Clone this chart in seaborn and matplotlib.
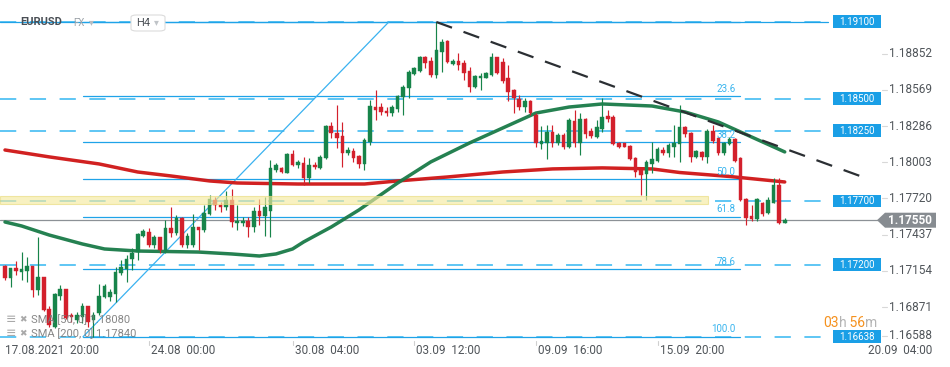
import numpy as np
import pandas as pd
import matplotlib
matplotlib.use("Agg")
import matplotlib.pyplot as plt
import matplotlib.transforms as mtransforms
from matplotlib.patches import Rectangle, Polygon, FancyBboxPatch
import seaborn as sns

# ---------------- data (EURUSD, H4) ----------------
open_ = [1.17192, 1.17098, 1.17176, 1.17145, 1.17153, 1.17192, 1.17004, 1.17106, 1.16856, 1.16715,
         1.16957, 1.17012, 1.16809, 1.16770, 1.16793, 1.16879, 1.16770, 1.16824, 1.16949, 1.16949,
         1.16973, 1.17137, 1.17168, 1.17247, 1.17301, 1.17427, 1.17458, 1.17356, 1.17419, 1.17317,
         1.17489, 1.17450, 1.17567, 1.17356, 1.17356, 1.17497, 1.17473, 1.17599, 1.17708, 1.17669,
         1.17653, 1.17708, 1.17528, 1.17528, 1.17544, 1.17497, 1.17622, 1.17583, 1.17622, 1.17943,
         1.17959, 1.17919, 1.18068, 1.17983, 1.17998, 1.17880, 1.17983, 1.17959, 1.18037, 1.18287,
         1.18232, 1.18209, 1.18076, 1.18092, 1.18053, 1.17990, 1.18162, 1.18435, 1.18435, 1.18404,
         1.18388, 1.18420, 1.18513, 1.18584, 1.18693, 1.18717, 1.18826, 1.18795, 1.18686, 1.18865,
         1.18951, 1.18772, 1.18795, 1.18779, 1.18717, 1.18592, 1.18662, 1.18662, 1.18686, 1.18826,
         1.18787, 1.18662, 1.18568, 1.18498, 1.18435, 1.18482, 1.18373, 1.18146, 1.18154, 1.18240,
         1.18154, 1.18217, 1.18123, 1.18326, 1.18154, 1.18341, 1.18248, 1.18201, 1.18263, 1.18365,
         1.18357, 1.18154, 1.18154, 1.18130, 1.18037, 1.17943, 1.17911, 1.17990, 1.18014, 1.18099,
         1.18076, 1.18123, 1.18146, 1.18279, 1.18232, 1.18045, 1.18084, 1.18045, 1.18248, 1.18193,
         1.18076, 1.18146, 1.18185, 1.18037, 1.17716, 1.17583, 1.17559, 1.17685, 1.17606, 1.17685,
         1.17825, 1.17528]
high = [1.17200, 1.17176, 1.17231, 1.17301, 1.17262, 1.17192, 1.17419, 1.17106, 1.16879, 1.16981,
        1.17043, 1.17012, 1.16824, 1.16832, 1.16903, 1.16879, 1.16832, 1.17051, 1.17051, 1.17012,
        1.17184, 1.17239, 1.17278, 1.17333, 1.17450, 1.17481, 1.17489, 1.17434, 1.17419, 1.17552,
        1.17653, 1.17591, 1.17575, 1.17450, 1.17599, 1.17497, 1.17669, 1.17747, 1.17731, 1.17692,
        1.17778, 1.17794, 1.17669, 1.17575, 1.17575, 1.17653, 1.17716, 1.17731, 1.18022, 1.17998,
        1.17967, 1.18076, 1.18099, 1.18022, 1.18045, 1.18037, 1.18006, 1.18061, 1.18295, 1.18318,
        1.18451, 1.18318, 1.18123, 1.18115, 1.18061, 1.18193, 1.18490, 1.18568, 1.18466, 1.18435,
        1.18451, 1.18529, 1.18607, 1.18725, 1.18748, 1.18834, 1.18834, 1.18826, 1.19100, 1.18967,
        1.18959, 1.18811, 1.18858, 1.18803, 1.18748, 1.18686, 1.18701, 1.18709, 1.18858, 1.18826,
        1.18818, 1.18764, 1.18576, 1.18529, 1.18506, 1.18490, 1.18388, 1.18287, 1.18295, 1.18295,
        1.18232, 1.18232, 1.18349, 1.18412, 1.18388, 1.18349, 1.18271, 1.18334, 1.18506, 1.18412,
        1.18373, 1.18162, 1.18154, 1.18138, 1.18045, 1.17943, 1.18022, 1.18162, 1.18123, 1.18123,
        1.18154, 1.18295, 1.18451, 1.18287, 1.18240, 1.18099, 1.18092, 1.18263, 1.18295, 1.18201,
        1.18162, 1.18201, 1.18193, 1.18045, 1.17724, 1.17669, 1.17724, 1.17692, 1.17731, 1.17880,
        1.17880, 1.17567]
low = [1.17082, 1.17027, 1.17122, 1.17082, 1.17067, 1.16949, 1.16965, 1.16840, 1.16715, 1.16707,
       1.16926, 1.16777, 1.16754, 1.16746, 1.16746, 1.16715, 1.16637, 1.16809, 1.16941, 1.16918,
       1.16910, 1.17122, 1.17067, 1.17161, 1.17239, 1.17419, 1.17340, 1.17333, 1.17294, 1.17294,
       1.17419, 1.17434, 1.17340, 1.17333, 1.17340, 1.17317, 1.17458, 1.17591, 1.17630, 1.17614,
       1.17630, 1.17497, 1.17473, 1.17505, 1.17419, 1.17458, 1.17513, 1.17427, 1.17419, 1.17927,
       1.17919, 1.17919, 1.17975, 1.17959, 1.17825, 1.17841, 1.17951, 1.17951, 1.18029, 1.18193,
       1.18115, 1.17967, 1.18061, 1.18006, 1.17959, 1.17943, 1.18138, 1.18334, 1.18373, 1.18365,
       1.18365, 1.18396, 1.18373, 1.18506, 1.18686, 1.18709, 1.18740, 1.18670, 1.18662, 1.18709,
       1.18779, 1.18764, 1.18725, 1.18646, 1.18553, 1.18584, 1.18568, 1.18662, 1.18678, 1.18693,
       1.18623, 1.18482, 1.18388, 1.18412, 1.18396, 1.18373, 1.18123, 1.18107, 1.18029, 1.18123,
       1.18138, 1.18107, 1.18115, 1.18123, 1.18061, 1.18193, 1.18193, 1.18193, 1.18240, 1.18318,
       1.18138, 1.18115, 1.18123, 1.18022, 1.17888, 1.17747, 1.17708, 1.17919, 1.18006, 1.18061,
       1.18045, 1.18045, 1.18006, 1.18201, 1.18006, 1.18037, 1.18022, 1.17998, 1.18154, 1.18061,
       1.18061, 1.18138, 1.18006, 1.17700, 1.17513, 1.17544, 1.17544, 1.17583, 1.17599, 1.17685,
       1.17520, 1.17528]
close = [1.17098, 1.17176, 1.17153, 1.17168, 1.17192, 1.17004, 1.17106, 1.16848, 1.16731, 1.16973,
         1.17012, 1.16785, 1.16793, 1.16809, 1.16879, 1.16754, 1.16809, 1.16957, 1.17035, 1.16988,
         1.17145, 1.17184, 1.17247, 1.17294, 1.17442, 1.17466, 1.17356, 1.17419, 1.17317, 1.17489,
         1.17450, 1.17567, 1.17356, 1.17427, 1.17497, 1.17473, 1.17606, 1.17716, 1.17669, 1.17653,
         1.17708, 1.17536, 1.17544, 1.17544, 1.17497, 1.17622, 1.17583, 1.17653, 1.17959, 1.17983,
         1.17927, 1.18068, 1.17983, 1.18006, 1.17880, 1.17983, 1.17967, 1.18045, 1.18287, 1.18232,
         1.18193, 1.18076, 1.18099, 1.18037, 1.17990, 1.18177, 1.18443, 1.18412, 1.18396, 1.18388,
         1.18435, 1.18521, 1.18592, 1.18709, 1.18740, 1.18826, 1.18779, 1.18686, 1.18881, 1.18944,
         1.18787, 1.18795, 1.18764, 1.18701, 1.18592, 1.18678, 1.18678, 1.18701, 1.18826, 1.18701,
         1.18639, 1.18553, 1.18506, 1.18435, 1.18482, 1.18388, 1.18154, 1.18170, 1.18240, 1.18154,
         1.18217, 1.18123, 1.18334, 1.18154, 1.18341, 1.18224, 1.18209, 1.18279, 1.18357, 1.18341,
         1.18146, 1.18123, 1.18123, 1.18029, 1.17927, 1.17904, 1.18006, 1.18029, 1.18107, 1.18076,
         1.18138, 1.18154, 1.18279, 1.18224, 1.18045, 1.18092, 1.18045, 1.18248, 1.18170, 1.18076,
         1.18154, 1.18185, 1.18014, 1.17708, 1.17567, 1.17559, 1.17716, 1.17599, 1.17708, 1.17825,
         1.17528, 1.17552]

sma50_idx = [0, 3, 8, 14, 18, 24, 35, 41, 46, 49, 52, 54, 59, 64, 71, 77, 84, 90, 96, 102, 108,
             117, 123, 129, 135, 141]
sma50_val = [1.17536, 1.17505, 1.17434, 1.17364, 1.17325, 1.17309, 1.17301, 1.17286, 1.17270, 1.17286,
             1.17325, 1.17380, 1.17497, 1.17630, 1.17841, 1.18006, 1.18154, 1.18271, 1.18388, 1.18435,
             1.18459, 1.18443, 1.18396, 1.18318, 1.18201, 1.18084]
sma200_idx = [0, 8, 17, 24, 30, 37, 42, 53, 65, 71, 80, 90, 99, 108, 117, 122, 131, 141]
sma200_val = [1.18099, 1.18045, 1.17990, 1.17927, 1.17896, 1.17857, 1.17841, 1.17833, 1.17833, 1.17857,
              1.17888, 1.17927, 1.17951, 1.17959, 1.17951, 1.17923, 1.17892, 1.17849]

level_prices = [1.19100, 1.18500, 1.18250, 1.17700, 1.17200, 1.16638]
level_labels = ["1.19100", "1.18500", "1.18250", "1.17700", "1.17200", "1.16638"]
axis_prices = [1.18852, 1.18569, 1.18286, 1.18003, 1.17720, 1.17437, 1.17154, 1.16871, 1.16588]
axis_labels = ["1.18852", "1.18569", "1.18286", "1.18003", "1.17720", "1.17437", "1.17154", "1.16871", "1.16588"]
fib_high, fib_low = 1.19100, 1.16638
fib_pcts = [0.0, 23.6, 38.2, 50.0, 61.8, 78.6, 100.0]
fib_texts = ["", "23.6", "38.2", "50.0", "61.8", "78.6", "100.0"]
fib_span = [14.1, 132.9]
zone_low, zone_high, zone_end = 1.17677, 1.17739, 127.1
trend_up_x, trend_up_y = [14.1, 69.4], [1.16638, 1.19100]
trend_dn_x, trend_dn_y = [78, 154.6], [1.19100, 1.17896]
last_price = 1.17550
date_ticks = [26, 52, 74, 96, 118]
date_labels = ["24.08  00:00", "30.08  04:00", "03.09  12:00", "09.09  16:00", "15.09  20:00"]
first_date = "17.08.2021  20:00"
last_date = "20.09  04:00"
sma_legend = ["SMA [50, 0] 1.18080", "SMA [200, 0] 1.17840"]
countdown = [("03", "#f5911e"), ("h", "#b4b4b4"), (" 56", "#f5911e"), ("m", "#b4b4b4")]

# ---------------- style ----------------
GREEN = "#17844a"
RED = "#d3202c"
BLUE = "#1fa3e8"
BLUE_D = "#52c2f3"
GRAY_T = "#50555a"

sns.set_theme(style="white")
plt.rcParams['font.family'] = ['Roboto', 'DejaVu Sans']

W, H = 950, 367
PXB = 5.53          # pixels per bar
PPX = 0.0000782     # price per pixel
fig = plt.figure(figsize=(W / 100, H / 100), dpi=100)
ax = fig.add_axes([0, 0, 1, 1])
ax.set_xlim(-5 / PXB, (W - 5) / PXB)
ax.set_ylim(1.19272 - H * PPX, 1.19272)
ax.axis('off')

def bx(px):
    return (px - 5) / PXB

def fy(py):
    return 1 - py / H

xa_yd = mtransforms.blended_transform_factory(ax.transAxes, ax.transData)

# level lines (dashed)
for p in level_prices:
    ax.plot([bx(0), bx(828)], [p, p], color=BLUE_D, lw=1.3, ls=(0, (9, 7.5)), zorder=1)
ax.plot([bx(0), bx(828)], [level_prices[0]] * 2, color=BLUE, lw=0.9, zorder=1)

# fib lines
for pct, txt in zip(fib_pcts, fib_texts):
    p = fib_high - pct / 100 * (fib_high - fib_low)
    ax.plot(fib_span, [p, p], color=BLUE, lw=0.9, zorder=1.2)
    if txt:
        ax.text(fib_span[1] - 0.8, p + 2.5 * PPX, txt, color="#38b4ee", fontsize=7,
                ha='right', va='bottom', zorder=6)

# fib diagonal
ax.plot(trend_up_x, trend_up_y, color="#3ab2f0", lw=0.9, zorder=1.3)

# current price line
ax.plot([bx(0), bx(878)], [last_price, last_price], color="#8c9196", lw=0.9, zorder=1.4)

# SMA lines
sns.lineplot(x=sma200_idx, y=sma200_val, ax=ax, color="#cf1515", lw=2.5, alpha=0.95, zorder=2)
sns.lineplot(x=sma50_idx, y=sma50_val, ax=ax, color="#197a48", lw=2.5, alpha=0.95, zorder=2)
for ln in ax.lines[-2:]:
    ln.set_solid_joinstyle('round')
    ln.set_solid_capstyle('round')

# candles
df = pd.DataFrame(dict(o=open_, h=high, l=low, c=close))
df['i'] = np.arange(len(df))
cols = np.where(df.c >= df.o, GREEN, RED)
ax.vlines(df.i, df.l, df.h, colors=cols, lw=0.85, zorder=3)
bottoms = np.minimum(df.o, df.c)
heights = np.maximum(np.abs(df.c - df.o), 1.2 * PPX)
ax.bar(df.i, heights, bottom=bottoms, width=0.66, color=cols, edgecolor=cols, lw=0.3, zorder=3.1)

# yellow zone
ax.add_patch(Rectangle((bx(0), zone_low), zone_end - bx(0), zone_high - zone_low,
                       facecolor="#f5eaa0", edgecolor="#e9dc7c", lw=0.8, alpha=0.65, zorder=3.5))

# down trend dashed
ax.plot(trend_dn_x, trend_dn_y, color="#2b2f33", lw=1.6, ls=(0, (7.5, 5.5)), zorder=4)

# level label boxes
for p, lab in zip(level_prices, level_labels):
    ax.add_patch(Rectangle((833 / W, p - 6 * PPX), 48 / W, 12.5 * PPX, transform=xa_yd,
                           facecolor="#1a9fe6", edgecolor="none", zorder=6))
    ax.text(857 / W, p, lab, transform=xa_yd, color="white", fontsize=7,
            ha='center', va='center', zorder=7)

# right axis labels
for p, lab in zip(axis_prices, axis_labels):
    yy = max(p, 1.19272 - 336 * PPX)
    ax.plot([882 / W, 887 / W], [yy, yy], transform=xa_yd, color="#d8d8d8", lw=0.8, zorder=5)
    ax.text(889 / W, yy, lab, transform=xa_yd, color=GRAY_T, fontsize=8.5,
            ha='left', va='center', zorder=5)

# last price tag
hh = 7.5 * PPX
ax.add_patch(Polygon([(877 / W, last_price), (885 / W, last_price + hh), (936 / W, last_price + hh),
                      (936 / W, last_price - hh), (885 / W, last_price - hh)], closed=True,
                     transform=xa_yd, facecolor="#878c91", edgecolor="none", zorder=8))
ax.text(910 / W, last_price, "1.17550", transform=xa_yd, color="white", fontsize=8.5,
        fontweight='bold', ha='center', va='center', zorder=9)

# date axis
for t, lab in zip(date_ticks, date_labels):
    xp = (5 + PXB * t) / W
    ax.plot([xp, xp], [fy(341), fy(345)], transform=ax.transAxes, color="#d0d0d0", lw=0.8)
    ax.text(xp + 2 / W, fy(350), lab, transform=ax.transAxes, color=GRAY_T, fontsize=8.5,
            ha='left', va='center')
ax.text(5 / W, fy(350), first_date, transform=ax.transAxes, color=GRAY_T, fontsize=8.5,
        ha='left', va='center')
ax.text(868 / W, fy(350), last_date, transform=ax.transAxes, color=GRAY_T, fontsize=8.5,
        ha='left', va='center')

# countdown (pieces chained side by side)
renderer = fig.canvas.get_renderer()
xcur = 823
for s, c in countdown:
    t = ax.text(xcur / W, fy(323), s, transform=ax.transAxes, color=c, fontsize=10,
                ha='left', va='center', zorder=9)
    xcur += t.get_window_extent(renderer=renderer).width

# SMA legend
for k, lab in enumerate(sma_legend):
    yp = fy(320 + 14 * k)
    ax.text(6 / W, yp, "\u2261", transform=ax.transAxes, color="#9a9a9a", fontsize=9,
            ha='left', va='center', family=['DejaVu Sans'], alpha=0.85, zorder=9)
    ax.text(19 / W, yp, "\u2716", transform=ax.transAxes, color="#9a9a9a", fontsize=6.5,
            ha='left', va='center', family=['DejaVu Sans'], alpha=0.85, zorder=9)
    ax.text(31 / W, yp, lab, transform=ax.transAxes, color="#7a7a7a", fontsize=8,
            ha='left', va='center', alpha=0.9, zorder=9)

# header
ax.text(20 / W, fy(22), "EURUSD", transform=ax.transAxes, color="#4a4f55", fontsize=8,
        fontweight='bold', ha='left', va='center', zorder=9)
ax.text(73 / W, fy(23), "FX", transform=ax.transAxes, color="#9ea4aa", fontsize=7,
        ha='left', va='center', zorder=9)
ax.text(89 / W, fy(22), "\u25be", transform=ax.transAxes, color="#b8bcc0", fontsize=7,
        ha='left', va='center', family=['DejaVu Sans'], zorder=9)
ax.add_patch(FancyBboxPatch((131 / W, fy(31)), 34 / W, 16 / H, transform=ax.transAxes,
                            boxstyle="round,pad=0,rounding_size=0.006", facecolor="white",
                            edgecolor="#dcdcdc", lw=0.8, zorder=8))
ax.text(136 / W, fy(23), "H4", transform=ax.transAxes, color="#4a4f55", fontsize=8,
        ha='left', va='center', zorder=9)
ax.text(154 / W, fy(22), "\u25be", transform=ax.transAxes, color="#c0c4c8", fontsize=7,
        ha='left', va='center', family=['DejaVu Sans'], zorder=9)

fig.savefig("out.png", dpi=100, facecolor="white")
